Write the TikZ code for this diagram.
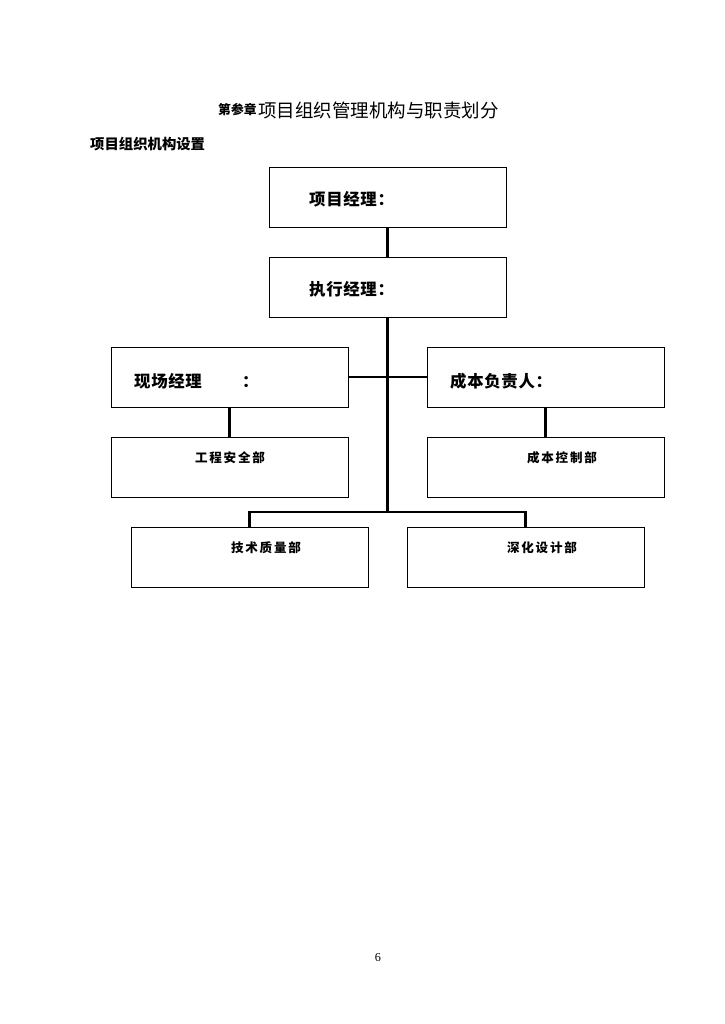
\documentclass[tikz,border=0pt]{standalone}
\usepackage{fontspec}
\setmainfont{Liberation Serif}
\newfontfamily\cjk{Noto Sans CJK SC}
\newfontfamily\cjkbig[LetterSpace=4]{Noto Sans CJK SC}
\newfontfamily\cjksmall[LetterSpace=14]{Noto Sans CJK SC}
\usetikzlibrary{positioning}
\tikzset{
  ob/.style={rectangle,draw,line width=0.7pt,minimum width=194.8pt,minimum height=49.3pt,inner sep=0pt},
  bt/.style={anchor=west,inner sep=0pt,font=\cjkbig\bfseries\fontsize{13.5}{15}\selectfont},
  st/.style={inner sep=0pt,font=\cjksmall\bfseries\fontsize{10.3}{12}\selectfont},
  ln/.style={line width=2.2pt},
}

\begin{document}
\begin{tikzpicture}[x=0.822pt,y=-0.822pt]
  \useasboundingbox[fill=white] (0,0) rectangle (724,1024);
  % heading
  \node[anchor=west,inner sep=0pt,font=\cjk\bfseries\fontsize{10.5}{12}\selectfont] (ch) at (218,110) {第参章};
  \node[anchor=west,inner sep=0pt,font=\cjk\fontsize{15.2}{17}\selectfont] (ttl) at ([xshift=1pt]ch.east) {项目组织管理机构与职责划分};
  \node[anchor=west,inner sep=0pt,font=\cjk\bfseries\fontsize{11.8}{13}\selectfont] (sub) at (90,144) {项目组织机构设置};
  % boxes
  \node[ob] (pm) at (387.5,197) {};
  \node[ob] (em) at (387.5,287) {};
  \node[ob] (sm) at (229.5,377) {};
  \node[ob] (cm) at (545.5,377) {};
  \node[ob] (safe) at (229.5,467) {};
  \node[ob] (cost) at (545.5,467) {};
  \node[ob] (tech) at (249.5,557) {};
  \node[ob] (design) at (525.5,557) {};
  % texts
  \node[bt] (pmt) at (309,199) {项目经理：};
  \node[bt] (emt) at (309,289) {执行经理：};
  \node[bt] (smt) at (134,381) {现场经理\hspace{33pt}：};
  \node[bt] (cmt) at (450,381) {成本负责人：};
  \node[st] (safet) at (230,458) {工程安全部};
  \node[st] (costt) at (562,458) {成本控制部};
  \node[st] (techt) at (266,548) {技术质量部};
  \node[st] (designt) at (542,548) {深化设计部};
  % connectors
  \coordinate (j) at (387.5,512);
  \draw[ln] (pm) -- (em);
  \draw[ln] (em) -- (j);
  \draw[ln] (sm) -- (cm);
  \draw[ln] (sm) -- (safe);
  \draw[ln] (cm) -- (cost);
  \draw[ln] (tech) |- (j) -| (design);
  % page number
  \node[font=\fontsize{10}{12}\selectfont] (pg) at (378,958) {6};
\end{tikzpicture}
\end{document}
